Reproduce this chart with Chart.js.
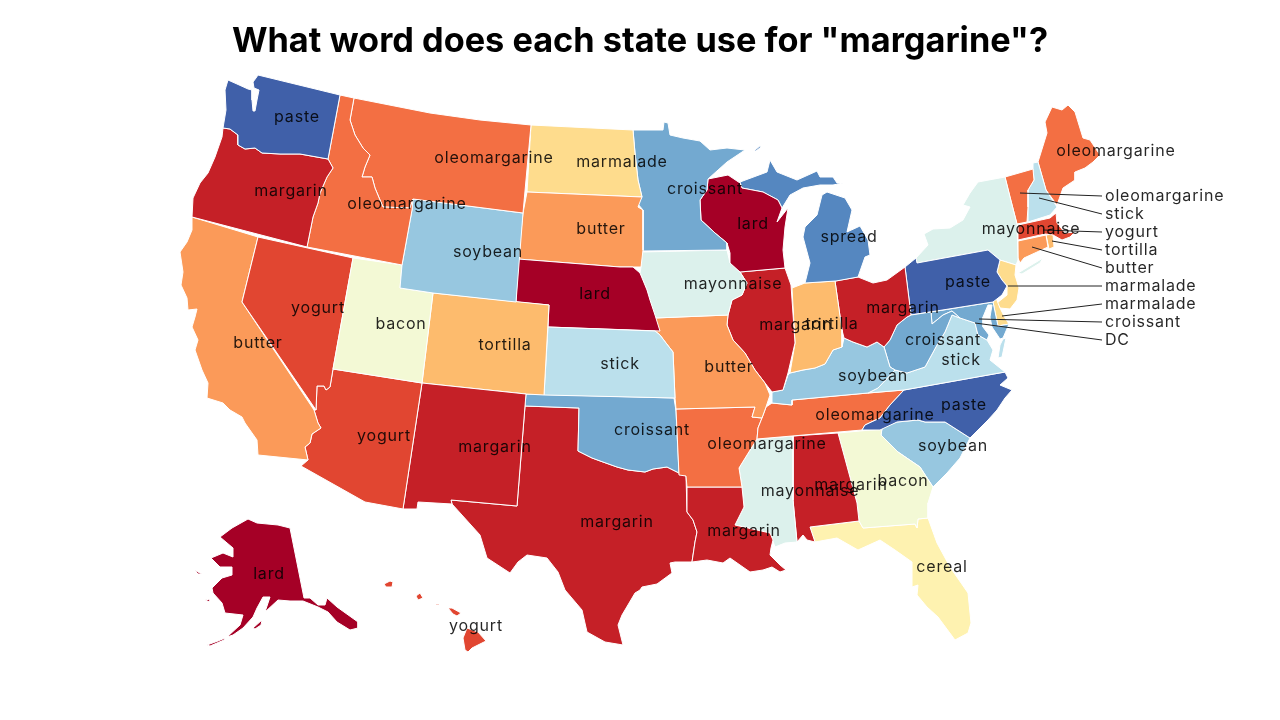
<!DOCTYPE html>
<html>
<head>
<meta charset="utf-8">
<title>margarine map</title>
<script src="https://cdn.jsdelivr.net/npm/chart.js@4"></script>
<style>
  html, body { margin: 0; padding: 0; background: #fff; }
  #myChart { display: block; }
</style>
</head>
<body>
<canvas id="myChart" width="1280" height="720"></canvas>
<script>
const chartTitle = 'What word does each state use for "margarine"?';

// word list, in the order of the colour ramp
const words = ["lard", "margarin", "yogurt", "oleomargarine", "butter", "tortilla", "marmalade", "cereal", "bacon", "mayonnaise", "stick", "soybean", "croissant", "spread", "paste"];
const wordColors = ["#a50026", "#c52027", "#e14631", "#f36f43", "#fb9a59", "#fdbb6d", "#fedc8d", "#fef2b0", "#f3f9d5", "#dcf1ec", "#bbe0ec", "#97c7e0", "#73a9d0", "#5587c0", "#4060a9"];

const states = ["WA", "OR", "ID", "MT", "WY", "UT", "NV", "CA", "AZ", "NM", "CO", "KS", "NE", "SD", "ND", "MN", "WI", "MI", "IA", "MO", "IL", "IN", "OH", "KY", "WV", "PA", "MD", "DE", "NJ", "VA", "NC", "TN", "AR", "LA", "MS", "AL", "GA", "FL", "SC", "OK", "TX", "AK", "HI", "NY", "VT", "NH", "ME", "MA", "CT", "RI"];
const stateWords = ["paste", "margarin", "oleomargarine", "oleomargarine", "soybean", "bacon", "yogurt", "butter", "yogurt", "margarin", "tortilla", "stick", "lard", "butter", "marmalade", "croissant", "lard", "spread", "mayonnaise", "butter", "margarin", "tortilla", "margarin", "soybean", "croissant", "paste", "croissant", "marmalade", "marmalade", "stick", "paste", "oleomargarine", "oleomargarine", "margarin", "mayonnaise", "margarin", "bacon", "cereal", "soybean", "croissant", "margarin", "lard", "yogurt", "mayonnaise", "oleomargarine", "stick", "oleomargarine", "yogurt", "butter", "tortilla"];

// outlines, in map units, one list of rings per state
const outlines = {
  WA: [[[258,75],[340,95],[328,159],[300,154],[280,154],[262,153],[255,148],[245,149],[238,145],[238,135],[230,129],[223,128],[224,122],[226,110],[225,90],[228,80],[237,84],[248,89],[252,90],[252,100],[253,111],[255,111],[257,100],[259,90],[254,88],[253,82],[256,78]]],
  OR: [[[223,128],[230,129],[238,135],[238,145],[245,149],[255,148],[262,153],[280,154],[300,154],[328,159],[333,168],[327,177],[320,193],[318,203],[313,217],[307,247],[192,217],[193,198],[200,183],[208,173],[215,157],[222,137]]],
  ID: [[[340,95],[354,98],[350,120],[355,135],[363,148],[370,155],[365,167],[362,177],[372,177],[375,188],[380,200],[383,207],[410,208],[413,199],[412,210],[402,265],[307,247],[313,217],[318,203],[320,193],[327,177],[333,168],[328,159]]],
  MT: [[[354,98],[430,113],[480,120],[531,125],[523,213],[413,199],[410,208],[383,207],[380,200],[375,188],[372,177],[362,177],[365,167],[370,155],[363,148],[355,135],[350,120]]],
  WY: [[[413,199],[523,213],[516,302],[433,293],[400,288],[402,265],[412,210]]],
  UT: [[[353,258],[402,265],[400,288],[433,293],[422,383],[333,369]]],
  NV: [[[258,237],[353,258],[333,369],[330,387],[326,390],[324,386],[317,386],[316,410],[242,302]]],
  CA: [[[192,217],[258,237],[242,302],[314,410],[318,423],[321,428],[312,434],[310,443],[305,447],[308,460],[258,455],[257,440],[245,423],[242,417],[230,410],[223,403],[207,398],[208,383],[202,370],[195,350],[198,340],[192,327],[195,317],[197,309],[188,310],[187,298],[181,285],[183,272],[180,252],[187,242],[192,230]]],
  AZ: [[[333,369],[422,383],[403,509],[365,502],[301,466],[308,460],[305,447],[310,443],[312,434],[321,428],[318,423],[314,410],[316,410],[317,386],[324,386],[326,390],[330,387]]],
  NM: [[[422,383],[526,394],[525,406],[517,506],[451,500],[452,504],[418,502],[417,509],[403,509]]],
  CO: [[[433,293],[549,305],[544,395],[526,394],[422,383]]],
  KS: [[[548,327],[655,331],[660,335],[666,343],[673,352],[675,398],[544,395]]],
  NE: [[[518,259],[620,267],[633,267],[640,273],[647,290],[650,300],[655,315],[660,331],[548,327],[549,305],[516,302]]],
  SD: [[[527,192],[642,197],[638,207],[643,210],[643,250],[641,267],[633,267],[620,267],[518,259],[523,213]]],
  ND: [[[531,125],[633,130],[635,153],[638,180],[642,197],[527,192]]],
  MN: [[[633,130],[663,130],[664,122],[668,123],[670,135],[683,138],[700,141],[710,150],[727,148],[745,150],[727,162],[708,179],[707,190],[700,200],[701,220],[715,233],[727,243],[727,250],[643,251],[643,210],[637,203],[642,197],[638,180],[635,153]]],
  WI: [[[708,179],[728,175],[740,183],[742,188],[763,192],[778,200],[782,208],[777,222],[788,208],[785,227],[783,250],[785,268],[740,272],[730,263],[730,253],[727,243],[715,233],[701,220],[700,200],[707,190]]],
  MI: [[[740,182],[767,172],[770,160],[777,172],[797,180],[817,171],[820,177],[833,177],[837,183],[843,183],[833,185],[820,185],[803,188],[790,195],[782,208],[778,200],[763,192],[742,188]],
       [[805,283],[836,281],[858,277],[865,257],[870,255],[868,240],[860,226],[847,232],[852,210],[845,198],[827,192],[822,195],[817,215],[805,227],[803,237],[810,263]],
       [[754,151],[761,145],[761,147],[756,151]]],
  IA: [[[642,252],[727,250],[730,263],[740,272],[747,283],[742,295],[732,300],[728,315],[655,318],[650,300],[647,290],[640,273],[641,267]]],
  MO: [[[655,318],[728,315],[727,325],[733,340],[745,353],[755,370],[765,383],[770,395],[766,407],[762,418],[752,417],[755,407],[676,409],[675,398],[673,352],[666,343],[660,335],[655,331]]],
  IL: [[[740,272],[785,268],[791,285],[795,343],[788,373],[783,390],[772,392],[765,383],[755,370],[745,353],[733,340],[727,325],[728,315],[732,300],[742,295],[747,283]]],
  IN: [[[792,288],[805,283],[835,281],[842,330],[842,347],[833,350],[825,364],[815,368],[803,370],[790,373],[795,343]]],
  OH: [[[835,281],[858,277],[873,283],[887,280],[905,267],[911,315],[907,317],[897,325],[890,340],[884,347],[877,342],[867,347],[853,342],[844,338],[842,330]]],
  KY: [[[772,392],[783,390],[788,375],[790,373],[803,370],[815,368],[825,364],[833,350],[842,347],[844,338],[853,342],[867,347],[877,342],[884,347],[890,367],[895,370],[878,388],[868,393],[792,400],[792,405],[772,403]]],
  WV: [[[907,317],[911,315],[931,312],[932,324],[943,315],[952,311],[960,318],[952,315],[945,332],[937,345],[925,367],[907,373],[895,370],[890,367],[884,347],[890,340],[897,325]]],
  PA: [[[905,267],[916,258],[917,263],[988,250],[1000,260],[997,272],[1002,280],[1007,286],[1002,295],[993,302],[911,315]]],
  MD: [[[931,312],[993,302],[998,326],[1009,324],[1003,338],[1000,339],[992,327],[990,317],[992,305],[988,305],[983,317],[983,327],[989,335],[987,340],[978,335],[975,323],[960,318],[952,311],[943,315],[932,324]]],
  DE: [[[993,302],[996,298],[1000,308],[1005,318],[1009,324],[998,326]]],
  NJ: [[[1000,260],[1016,265],[1015,275],[1019,288],[1017,300],[1010,309],[1000,308],[997,303],[1007,295],[1007,286],[1002,280],[997,272]]],
  VA: [[[868,393],[878,388],[895,370],[907,373],[925,367],[937,345],[945,332],[952,315],[960,318],[975,323],[978,335],[987,340],[993,350],[990,360],[995,364],[1005,372],[904,390]],
       [[1003,339],[1006,338],[1002,357],[998,358],[1000,345]]],
  NC: [[[904,390],[1005,372],[1008,378],[1000,385],[1012,390],[1005,398],[997,410],[988,420],[970,438],[945,422],[925,422],[918,420],[897,422],[880,430],[862,430],[865,425],[880,418],[890,405]]],
  TN: [[[904,390],[890,405],[880,418],[865,425],[862,430],[757,439],[758,428],[762,418],[766,407],[772,403],[792,405],[792,400],[868,393]]],
  AR: [[[676,409],[755,407],[752,417],[762,418],[758,428],[757,439],[747,455],[739,468],[742,487],[687,487],[686,476],[679,475]]],
  LA: [[[687,487],[742,487],[744,507],[735,525],[770,533],[773,540],[771,548],[770,555],[780,565],[786,570],[780,572],[772,567],[763,570],[750,572],[730,558],[723,563],[707,560],[692,562],[695,542],[697,532],[693,520],[687,512]]],
  MS: [[[757,439],[793,436],[793,500],[797,542],[785,543],[775,547],[770,533],[735,525],[744,507],[742,487],[739,468],[747,455]]],
  AL: [[[793,436],[838,433],[857,503],[859,521],[810,527],[815,542],[807,540],[803,535],[797,542],[793,500]]],
  GA: [[[838,433],[882,429],[881,435],[898,452],[920,467],[933,487],[928,503],[928,518],[918,519],[917,528],[915,524],[863,528],[859,521],[857,503]]],
  FL: [[[810,527],[859,521],[863,528],[915,524],[917,528],[918,519],[928,518],[937,543],[950,567],[968,593],[971,623],[968,633],[955,640],[938,617],[927,607],[917,595],[918,585],[912,587],[912,562],[895,550],[880,540],[858,550],[837,538],[815,542]]],
  SC: [[[881,435],[882,428],[897,422],[918,420],[925,422],[945,422],[970,438],[960,458],[947,473],[933,487],[920,467],[898,452]]],
  OK: [[[526,394],[674,398],[676,411],[679,473],[667,467],[653,469],[645,472],[628,470],[617,467],[603,462],[592,458],[578,451],[579,408],[525,406]]],
  TX: [[[525,406],[579,408],[578,451],[592,458],[603,462],[617,467],[628,470],[645,472],[653,469],[667,467],[679,473],[686,476],[687,512],[693,520],[697,532],[695,542],[692,562],[675,562],[670,563],[672,573],[657,584],[642,587],[640,590],[635,593],[622,615],[618,625],[623,645],[605,642],[587,632],[582,610],[565,590],[558,572],[547,558],[527,555],[518,562],[510,573],[487,558],[480,535],[452,504],[451,500],[517,506]]],
  AK: [[[290,528],[304,598],[310,598],[318,605],[325,605],[327,598],[337,607],[358,622],[358,628],[350,630],[337,622],[328,612],[318,607],[303,601],[290,601],[278,600],[265,612],[270,597],[263,597],[257,608],[253,617],[243,628],[233,635],[227,637],[240,625],[243,615],[225,613],[222,603],[213,593],[212,588],[222,578],[232,575],[232,567],[220,567],[211,558],[223,553],[233,557],[233,548],[220,537],[232,528],[248,519],[257,523],[278,525]],
       [[253,628],[262,620],[261,625],[255,629]],
       [[194,570],[202,574],[198,574]],
       [[205,600],[210,599],[210,602]],
       [[207,645],[218,641],[225,638],[224,640],[210,646]]],
  HI: [[[384,584],[390,581],[393,582],[392,587],[386,587]],
       [[416,596],[420,593],[423,598],[418,600]],
       [[435,604],[440,604],[439,605],[436,605]],
       [[448,608],[452,608],[461,613],[457,616],[453,614]],
       [[467,628],[478,632],[486,641],[472,648],[468,652],[465,650],[463,638]]],
  NY: [[[1005,177],[1010,197],[1017,224],[1018,260],[1016,265],[1000,260],[988,250],[917,263],[916,258],[928,245],[924,234],[933,229],[950,228],[963,220],[970,207],[963,205],[970,193],[978,182]],
       [[1018,273],[1043,258],[1040,263],[1022,274]]],
  VT: [[[1005,177],[1033,169],[1034,180],[1028,190],[1028,207],[1027,222],[1017,224],[1010,197]]],
  NH: [[[1033,163],[1038,162],[1046,190],[1057,207],[1050,215],[1028,222],[1028,190],[1034,180],[1033,169]]],
  ME: [[[1038,162],[1047,133],[1045,122],[1052,107],[1062,110],[1068,105],[1075,112],[1083,138],[1090,140],[1100,155],[1093,162],[1085,168],[1075,172],[1075,180],[1063,188],[1057,205],[1046,190]]],
  MA: [[[1018,225],[1050,218],[1056,213],[1057,223],[1065,233],[1075,232],[1070,237],[1062,240],[1053,235],[1045,234],[1018,240]]],
  CT: [[[1018,241],[1046,235],[1048,247],[1024,258],[1020,263],[1018,258]]],
  RI: [[[1046,235],[1053,234],[1054,247],[1049,249]]],
};

// words written on the map and where they sit, in map units
const mapLabels = ["paste", "oleomargarine", "marmalade", "croissant", "oleomargarine", "oleomargarine", "margarin", "lard", "spread", "mayonnaise", "paste", "soybean", "butter", "lard", "mayonnaise", "margarin", "tortilla", "margarin", "yogurt", "bacon", "tortilla", "butter", "stick", "butter", "soybean", "croissant", "stick", "oleomargarine", "paste", "oleomargarine", "soybean", "yogurt", "margarin", "croissant", "mayonnaise", "margarin", "bacon", "margarin", "margarin", "cereal", "lard", "yogurt"];
const mapLabelX = [297, 494, 622, 705, 1116, 407, 291, 753, 849, 1031, 968, 488, 601, 595, 733, 796, 832, 903, 318, 401, 505, 258, 620, 729, 873, 943, 961, 875, 964, 767, 953, 384, 495, 652, 810, 851, 903, 744, 617, 942, 269, 476];
const mapLabelY = [117, 158, 162, 189, 151, 204, 191, 224, 237, 229, 282, 252, 229, 294, 284, 325, 324, 308, 308, 324, 345, 343, 364, 367, 376, 340, 360, 415, 405, 444, 446, 436, 447, 430, 491, 485, 481, 531, 522, 567, 574, 626];

// small states called out at the right edge
const calloutLabels = ["oleomargarine", "stick", "yogurt", "tortilla", "butter", "marmalade", "marmalade", "croissant", "DC"];
const calloutX = 1105;
const calloutY = [196, 214, 232, 250, 268, 286, 304, 322, 340];
const calloutFromX = [1020, 1039, 1043, 1052, 1032, 1008, 1002, 979, 975];
const calloutFromY = [193, 198, 230, 241, 247, 286, 316, 319, 323];

const titleHeight = 62;

const toPoints = (ring) => ring.map((p) => ({ x: p[0], y: p[1] }));

const datasets = [];
states.forEach((s, i) => {
  const color = wordColors[words.indexOf(stateWords[i])];
  outlines[s].forEach((ring) => {
    datasets.push({
      label: s,
      data: toPoints(ring.concat([ring[0]])),
      showLine: true,
      fill: "shape",
      backgroundColor: color,
      borderColor: "#ffffff",
      borderWidth: 1,
      pointRadius: 0,
      tension: 0,
    });
  });
});

// leader lines, order -1 keeps them above the states
calloutLabels.forEach((l, i) => {
  datasets.push({
    label: l,
    order: -1,
    data: [
      { x: calloutFromX[i], y: calloutFromY[i] },
      { x: calloutX - 3, y: calloutY[i] },
    ],
    showLine: true,
    fill: false,
    borderColor: "#222222",
    borderWidth: 1,
    pointRadius: 0,
  });
});

// draws the word labels on top of the map
const wordLabels = {
  id: "wordLabels",
  afterDatasetsDraw(chart) {
    const { ctx, scales } = chart;
    ctx.save();
    ctx.font = '16px "Inter"';
    ctx.letterSpacing = "0.8px";
    ctx.fillStyle = "rgba(0,0,0,0.85)";
    ctx.textBaseline = "middle";
    ctx.textAlign = "center";
    mapLabels.forEach((l, i) => {
      ctx.fillText(l, scales.x.getPixelForValue(mapLabelX[i]), scales.y.getPixelForValue(mapLabelY[i]));
    });
    ctx.textAlign = "left";
    calloutLabels.forEach((l, i) => {
      ctx.fillText(l, scales.x.getPixelForValue(calloutX), scales.y.getPixelForValue(calloutY[i]));
    });
    ctx.restore();
  },
};

new Chart(document.getElementById("myChart"), {
  type: "scatter",
  data: { datasets: datasets },
  plugins: [wordLabels],
  options: {
    responsive: false,
    animation: false,
    events: [],
    layout: { padding: 0 },
    plugins: {
      legend: { display: false },
      tooltip: { enabled: false },
      title: {
        display: true,
        text: chartTitle,
        color: "#000000",
        font: { family: "Inter", size: 34.3, weight: "bold", lineHeight: "40px" },
        padding: { top: 22, bottom: 0 },
      },
    },
    scales: {
      x: { type: "linear", display: false, min: 0, max: 1280 },
      y: { type: "linear", display: false, reverse: true, min: titleHeight, max: 720 },
    },
  },
});
</script>
</body>
</html>
